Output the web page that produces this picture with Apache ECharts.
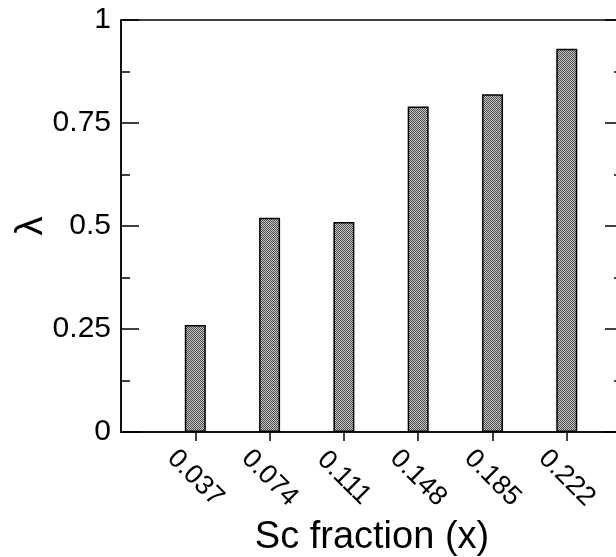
<!DOCTYPE html>
<html>
<head>
<meta charset="utf-8">
<script src="https://cdn.jsdelivr.net/npm/echarts@6/dist/echarts.min.js"></script>
<style>html,body{margin:0;padding:0;background:#fff;}#chart{width:616px;height:557px;}</style>
</head>
<body>
<div id="chart"></div>
<script>
const categories = [0.037, 0.074, 0.111, 0.148, 0.185, 0.222];
const lambdaValues = [0.26, 0.52, 0.51, 0.79, 0.82, 0.93];
const yTicks = [0, 0.25, 0.5, 0.75, 1];

// checker pattern for bar fill
const pc = document.createElement('canvas');
pc.width = 2; pc.height = 2;
const pctx = pc.getContext('2d');
pctx.fillStyle = '#c8c8c8'; pctx.fillRect(0,0,2,2);
pctx.fillStyle = '#4a4a4a'; pctx.fillRect(0,0,1,1); pctx.fillRect(1,1,1,1);

const font = 'Liberation Sans, Arial, sans-serif';
const chart = echarts.init(document.getElementById('chart'));
chart.setOption({
  animation: false,
  grid: { left: 121, right: -7, top: 20, bottom: 125, show: true, borderColor: '#000', borderWidth: 1.5,
          containLabel: false, outerBoundsMode: 'none' },
  xAxis: [{
    type: 'value', min: 0, max: 0.25,
    name: 'Sc fraction (x)', nameLocation: 'middle', nameGap: 87, nameMoveOverlap: false,
    nameTextStyle: { fontFamily: font, fontSize: 38, color: '#000' },
    axisLine: { show: true, lineStyle: { color: '#000', width: 1.5 } },
    axisTick: { show: true, customValues: categories, length: 9, lineStyle: { color: '#000', width: 1.5 } },
    axisLabel: { customValues: categories, rotate: -45, margin: 46, align: 'center', verticalAlign: 'middle',
      fontFamily: font, fontSize: 27, color: '#000', formatter: v => v.toFixed(3) },
    splitLine: { show: false }
  }],
  yAxis: [{
    type: 'value', min: 0, max: 1, interval: 0.25,
    name: 'λ', nameLocation: 'middle', nameGap: 70, nameMoveOverlap: false,
    nameTextStyle: { fontFamily: font, fontSize: 38, color: '#000' },
    axisLine: { show: true, lineStyle: { color: '#000', width: 1.5 } },
    axisTick: { show: true, inside: true, length: 18, lineStyle: { color: '#000', width: 1.5 } },
    minorTick: { show: true, splitNumber: 2, length: 9, lineStyle: { color: '#000', width: 1.5 } },
    axisLabel: { customValues: yTicks, margin: 10, fontFamily: font, fontSize: 30, color: '#000',
      formatter: v => String(v) },
    splitLine: { show: false }
  }, {
    type: 'value', min: 0, max: 1, interval: 0.25, position: 'right',
    axisLine: { show: true, lineStyle: { color: '#000', width: 1.5 } },
    axisTick: { show: true, inside: true, length: 18, lineStyle: { color: '#000', width: 1.5 } },
    minorTick: { show: true, splitNumber: 2, length: 9, lineStyle: { color: '#000', width: 1.5 } },
    axisLabel: { show: false },
    splitLine: { show: false }
  }],
  series: [{
    type: 'bar',
    data: categories.map((c, i) => [c, lambdaValues[i]]),
    barWidth: 21,
    itemStyle: { color: { image: pc, repeat: 'repeat' }, borderColor: '#000', borderWidth: 1.5 }
  }]
});
</script>
</body>
</html>
